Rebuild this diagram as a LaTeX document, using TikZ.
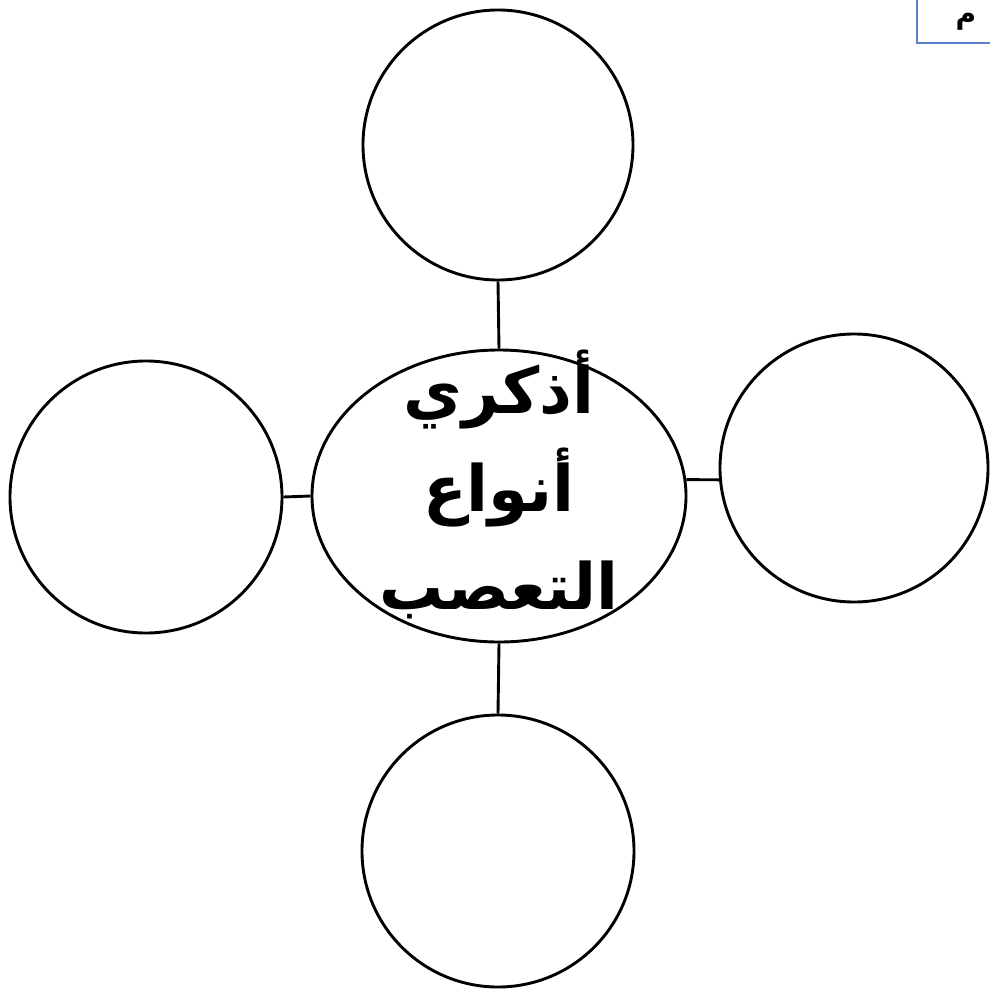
\documentclass[tikz,border=0pt]{standalone}
\usepackage{fontspec}
\newfontfamily\arabicfont[Script=Arabic]{DejaVu Sans}
\TeXXeTstate=1
\usetikzlibrary{shapes.geometric}
\definecolor{boxblue}{HTML}{5B7FC8}
\begin{document}
\begin{tikzpicture}[x=1pt,y=-1pt,
  bubble/.style={draw,line width=2.9pt,circle,minimum size=270pt,inner sep=0pt},
  link/.style={line width=2.9pt}]
\useasboundingbox (0,0) rectangle (990,991);
\node[bubble] (top) at (498,145) {};
\node[bubble,minimum size=272pt] (left) at (146,497) {};
\node[bubble,minimum size=268pt] (right) at (854,468) {};
\node[bubble,minimum size=272pt] (bottom) at (498,851) {};
\node[draw,line width=2.9pt,ellipse,minimum width=374pt,minimum height=292pt,inner sep=0pt] (center) at (499,496) {};
\node[font=\arabicfont\bfseries\fontsize{64}{98}\selectfont,align=center] (label) at (499,484)
  {\beginR أذكري\endR\\\beginR أنواع\endR\\\beginR التعصب\endR};
\draw[link] (top.south) -- (center.north);
\draw[link] (center.south) -- (bottom.north);
\draw[link] (left.east) -- (center.west);
\draw[link] (center.5) -- (right.185);
\begin{scope}
\clip (0,0) rectangle (990,991);
\draw[boxblue,line width=2pt] (917,-10) rectangle (1010,43);
\node[font=\arabicfont\bfseries\fontsize{28}{28}\selectfont,inner sep=0pt] (corner) at (966,22) {\beginR م\endR};
\end{scope}
\end{tikzpicture}
\end{document}
